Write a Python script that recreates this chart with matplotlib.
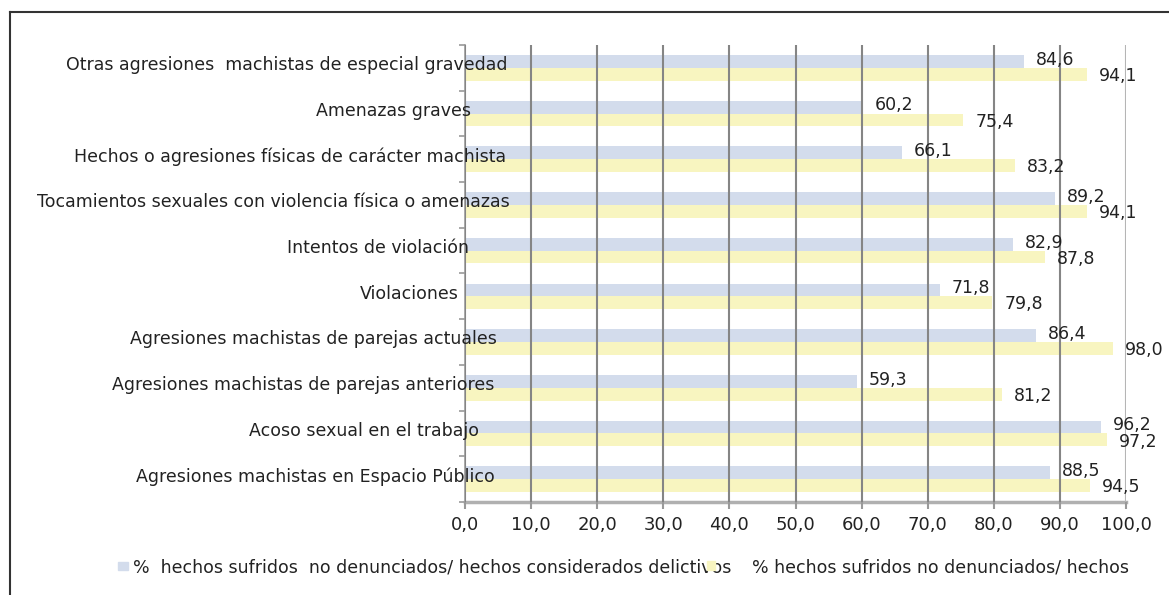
import numpy as np
import matplotlib
matplotlib.use("Agg")
import matplotlib.pyplot as plt
from matplotlib.patches import Rectangle
from matplotlib.lines import Line2D

plt.rcParams.update({"font.family": ["DejaVu Sans"], "font.size": 12.5})

categories = [
    "Otras agresiones  machistas de especial gravedad",
    "Amenazas graves",
    "Hechos o agresiones físicas de carácter machista",
    "Tocamientos sexuales con violencia física o amenazas",
    "Intentos de violación",
    "Violaciones",
    "Agresiones machistas de parejas actuales",
    "Agresiones machistas de parejas anteriores",
    "Acoso sexual en el trabajo",
    "Agresiones machistas en Espacio Público",
]
no_denunciados_delictivos = [84.6, 60.2, 66.1, 89.2, 82.9, 71.8, 86.4, 59.3, 96.2, 88.5]
no_denunciados_hechos = [94.1, 75.4, 83.2, 94.1, 87.8, 79.8, 98.0, 81.2, 97.2, 94.5]
xticks = np.arange(0, 101, 10)
legend_labels = ["%  hechos sufridos  no denunciados/ hechos considerados delictivos",
                 "% hechos sufridos no denunciados/ hechos"]

# layout: right end of every category label (x in data units, labels overlap the bars)
label_right = [6.5, 0.9, 6.2, 6.7, 0.6, -0.9, 4.8, 4.5, 2.1, 4.5]

BLUE, YELLOW = "#D3DCEC", "#F8F5C0"
W, H = 1169, 595

fig = plt.figure(figsize=(W / 100, H / 100), dpi=100)
ax = fig.add_axes([465 / W, 1 - 502 / H, (1126 - 465) / W, (502 - 45) / H])

y = np.arange(len(categories))
bh = 0.28
ax.barh(y - bh / 2, no_denunciados_delictivos, bh, color=BLUE, zorder=1)
ax.barh(y + bh / 2, no_denunciados_hechos, bh, color=YELLOW, zorder=1)

fmt = lambda v: f"{v:.1f}".replace(".", ",")
for yi, a, b in zip(y, no_denunciados_delictivos, no_denunciados_hechos):
    ax.annotate(fmt(a), (a, yi - bh / 2), xytext=(8.5, 1.2), textcoords="offset points",
                va="center", ha="left", fontsize=12.5, color="#222222", annotation_clip=False, zorder=4)
    ax.annotate(fmt(b), (b, yi + bh / 2), xytext=(8.5, -1.2), textcoords="offset points",
                va="center", ha="left", fontsize=12.5, color="#222222", annotation_clip=False, zorder=4)

for yi, lab, xr in zip(y, categories, label_right):
    ax.text(xr, yi - 0.06, lab, ha="right", va="center", fontsize=12.5, color="#222222", zorder=5)

ax.set_xlim(0, 100)
ax.set_ylim(len(categories) - 0.5, -0.5)
ax.set_xticks(xticks, [fmt(t) for t in xticks], fontsize=13)
ax.set_yticks([])
ax.set_yticks(np.arange(-0.5, len(categories)), minor=True)
ax.tick_params(axis="y", which="minor", length=4, width=1.2, color="#999999", direction="out")
ax.tick_params(axis="x", length=5, width=1.5, color="#999999", pad=5, labelcolor="#222222")
ax.grid(axis="x", color="#858585", lw=1.5, zorder=3)
ax.set_axisbelow(False)
for t in ax.get_xgridlines()[-1:]:
    t.set_color("#b5b5b5")
for s in ["top", "right"]:
    ax.spines[s].set_visible(False)
ax.spines["bottom"].set_color("#b0b0b0")
ax.spines["bottom"].set_linewidth(2.5)
ax.spines["left"].set_color("#999999")
ax.spines["left"].set_linewidth(1.2)

# legend drawn by hand
fig.patches.append(Rectangle((118 / W, 1 - 570 / H), 10 / W, 8 / H, transform=fig.transFigure,
                             color=BLUE, zorder=1))
fig.text(133 / W, 1 - 567 / H, legend_labels[0], ha="left", va="center", fontsize=12.5, color="#222222")
fig.text(752 / W, 1 - 567 / H, legend_labels[1], ha="left", va="center", fontsize=12.5, color="#222222")
fig.patches.append(Rectangle((707 / W, 1 - 570 / H), 8 / W, 9 / H, transform=fig.transFigure,
                             color=YELLOW, zorder=5))

# outer frame
fig.lines.append(Line2D([10 / W, 10 / W], [0, 1 - 12 / H], transform=fig.transFigure, color="#333333", lw=1.5))
fig.lines.append(Line2D([10 / W, 1], [1 - 12 / H, 1 - 12 / H], transform=fig.transFigure, color="#333333", lw=1.5))

fig.savefig("out.png", dpi=100)
